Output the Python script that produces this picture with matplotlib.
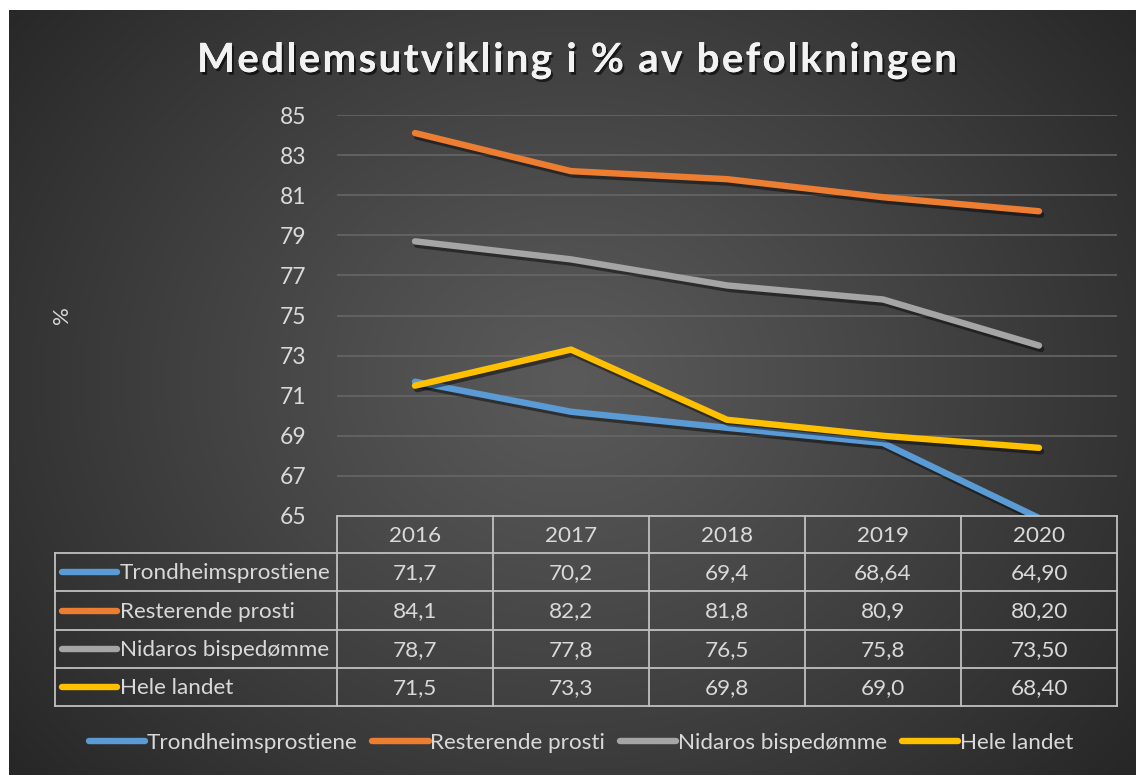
import numpy as np
import matplotlib
matplotlib.use("Agg")
import matplotlib.pyplot as plt
import matplotlib.patheffects as pe
from matplotlib.lines import Line2D

plt.rcParams['font.family'] = ['Lato', 'DejaVu Sans']

# ---------------- data ----------------
years = ["2016", "2017", "2018", "2019", "2020"]
series_names = ["Trondheimsprostiene", "Resterende prosti", "Nidaros bispedømme", "Hele landet"]
trondheim = [71.7, 70.2, 69.4, 68.64, 64.90]
resterende = [84.1, 82.2, 81.8, 80.9, 80.20]
nidaros = [78.7, 77.8, 76.5, 75.8, 73.50]
hele = [71.5, 73.3, 69.8, 69.0, 68.40]
trondheim_lbl = ["71,7", "70,2", "69,4", "68,64", "64,90"]
resterende_lbl = ["84,1", "82,2", "81,8", "80,9", "80,20"]
nidaros_lbl = ["78,7", "77,8", "76,5", "75,8", "73,50"]
hele_lbl = ["71,5", "73,3", "69,8", "69,0", "68,40"]
yticks = [65, 67, 69, 71, 73, 75, 77, 79, 81, 83, 85]
colors = ["#5B9BD5", "#ED7D31", "#A5A5A5", "#FFC000"]
title = "Medlemsutvikling i % av befolkningen"

values = [trondheim, resterende, nidaros, hele]
labels = [trondheim_lbl, resterende_lbl, nidaros_lbl, hele_lbl]

W, H = 1136, 775
fig = plt.figure(figsize=(W / 100, H / 100), dpi=100)
fig.patch.set_facecolor("white")

# ---------------- background (radial gradient) ----------------
bg = fig.add_axes([9 / W, 0, 1 - 9 / W, 1 - 10 / H], zorder=-10)
yy, xx = np.mgrid[0:765, 0:1127]
cx, cy = 560, 370
r = np.sqrt(((xx - cx) / 1.0) ** 2 + ((yy - cy) / 0.85) ** 2)
t = np.clip(r / 720.0, 0, 1) ** 1.1
c_center = np.array([0x5a, 0x5a, 0x5a]) / 255
c_edge = np.array([0x27, 0x27, 0x27]) / 255
img = c_center[None, None, :] * (1 - t[..., None]) + c_edge[None, None, :] * t[..., None]
bg.imshow(img, aspect="auto", extent=[0, 1, 0, 1], interpolation="bilinear")
bg.set_axis_off()

# ---------------- main axes ----------------
x0, x1 = 337, 1117
ytop, ybot = 115, 516
ax = fig.add_axes([x0 / W, 1 - ybot / H, (x1 - x0) / W, (ybot - ytop) / H])
ax.set_facecolor("none")
xs = np.arange(len(years))
shadow = [pe.SimpleLineShadow(offset=(1.5, -2.5), shadow_color="black", alpha=0.45), pe.Normal()]
for vals, col, name in zip(values, colors, series_names):
    ax.plot(xs, vals, color=col, lw=4.6, solid_capstyle="round", solid_joinstyle="round",
            path_effects=shadow, label=name, zorder=3)
ax.set_xlim(-0.5, len(years) - 0.5)
ax.set_ylim(65, 85)
ax.set_yticks(yticks)
ax.set_yticklabels([str(v) for v in yticks])
ax.set_xticks([])
ax.tick_params(axis="y", length=0, pad=22, labelsize=16.5, labelcolor="#d9d9d9")
for s in ax.spines.values():
    s.set_visible(False)
ax.yaxis.grid(True, color="#666666", lw=1.2, zorder=0)
ax.set_axisbelow(True)

fig.text(62 / W, 1 - 315 / H, "%", rotation=90, color="#d9d9d9", fontsize=16,
         ha="center", va="center")

# ---------------- data table ----------------
ov = fig.add_axes([0, 0, 1, 1], zorder=5)
ov.set_xlim(0, W)
ov.set_ylim(H, 0)
ov.set_axis_off()
ov.patch.set_visible(False)

tc = "#c0c0c0"
tlw = 1.3
row_edges = [516, 553, 591, 630, 668, 706]
col_w = (x1 - x0) / len(years)
col_edges = [x0 + i * col_w for i in range(len(years) + 1)]
tab_left = 55
ov.plot([x0, x1], [row_edges[0]] * 2, color=tc, lw=tlw)
for yv in row_edges[1:]:
    ov.plot([tab_left, x1], [yv, yv], color=tc, lw=tlw)
ov.plot([tab_left, tab_left], [row_edges[1], row_edges[-1]], color=tc, lw=tlw)
for xv in col_edges:
    ov.plot([xv, xv], [row_edges[0], row_edges[-1]], color=tc, lw=tlw)

fs_tab = 16.2
for j, yr in enumerate(years):
    ov.text(col_edges[j] + col_w / 2, (row_edges[0] + row_edges[1]) / 2 + 1, yr,
            ha="center", va="center", color="#d9d9d9", fontsize=fs_tab)
for i, (name, col, lbls) in enumerate(zip(series_names, colors, labels)):
    yc = (row_edges[i + 1] + row_edges[i + 2]) / 2
    ov.plot([62, 117], [yc, yc], color=col, lw=4.6, solid_capstyle="round")
    ov.text(120, yc + 1, name, ha="left", va="center", color="#d9d9d9", fontsize=fs_tab)
    for j, lb in enumerate(lbls):
        ov.text(col_edges[j] + col_w / 2, yc + 1, lb, ha="center", va="center",
                color="#d9d9d9", fontsize=fs_tab)

# ---------------- legend ----------------
handles = [Line2D([0], [0], color=c, lw=4.6, solid_capstyle="round") for c in colors]
leg = fig.legend(handles, series_names, loc="center", bbox_to_anchor=(581 / W, 1 - 743 / H),
                 ncol=4, frameon=False, handlelength=2.5, handletextpad=0.08,
                 columnspacing=0.65, fontsize=16.2)
for txt in leg.get_texts():
    txt.set_color("#d9d9d9")

# ---------------- title with letter spacing ----------------
renderer = fig.canvas.get_renderer()
tfs = 29
widths = []
for ch in title:
    if ch == " ":
        tt = ov.text(0, 0, "a a", fontsize=tfs, fontweight="bold")
        w_full = tt.get_window_extent(renderer).width
        tt.remove()
        tt = ov.text(0, 0, "aa", fontsize=tfs, fontweight="bold")
        w_aa = tt.get_window_extent(renderer).width
        tt.remove()
        widths.append(w_full - w_aa)
    else:
        tt = ov.text(0, 0, ch, fontsize=tfs, fontweight="bold")
        widths.append(tt.get_window_extent(renderer).width)
        tt.remove()
target_left, target_right = 197, 957
gap = (target_right - target_left - sum(widths)) / (len(title) - 1)
xcur = target_left
title_fx = [pe.withSimplePatchShadow(offset=(1.5, -2), shadow_rgbFace="black", alpha=0.6), pe.Normal()]
for ch, w in zip(title, widths):
    if ch != " ":
        ov.text(xcur, 72, ch, fontsize=tfs, fontweight="bold", color="#f2f2f2",
                ha="left", va="baseline", path_effects=title_fx)
    xcur += w + gap

fig.savefig("out.png", dpi=100, facecolor=fig.get_facecolor())
